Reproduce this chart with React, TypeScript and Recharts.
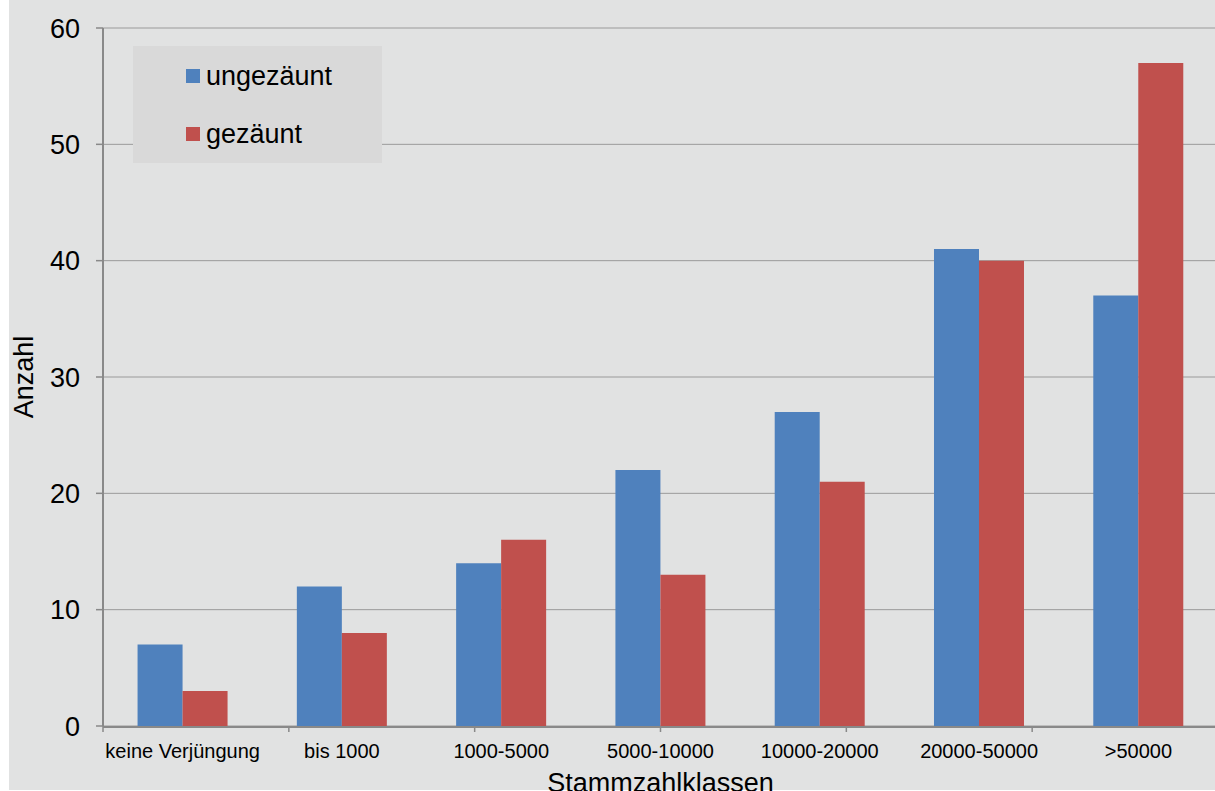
import React from 'react';
import { BarChart, Bar, XAxis, YAxis, CartesianGrid, Legend, Label } from 'recharts';

const categories = ['keine Verjüngung', 'bis 1000', '1000-5000', '5000-10000', '10000-20000', '20000-50000', '>50000'];
const ungezaunt = [7, 12, 14, 22, 27, 41, 37];
const gezaunt = [3, 8, 16, 13, 21, 40, 57];
const seriesNames = ['ungezäunt', 'gezäunt'];
const yTicks = [0, 10, 20, 30, 40, 50, 60];
// class boundaries for the tick marks between categories
const classBounds = [0, 1, 2, 3, 4, 5, 6, 7];

const data = categories.map((name, i) => ({
  name,
  ungezaunt: ungezaunt[i],
  gezaunt: gezaunt[i],
}));

const FONT = '"Liberation Sans", Arial, sans-serif';
const AXIS_GRAY = '#898989';

function LegendBox({ payload }: any) {
  const items = [...(payload || [])].sort(
    (a: any, b: any) => seriesNames.indexOf(a.value) - seriesNames.indexOf(b.value)
  );
  return (
    <div
      style={{
        width: 249,
        height: 117,
        background: '#d9d9d9',
        boxSizing: 'border-box',
        paddingTop: 1,
        paddingLeft: 53,
      }}
    >
      {items.map((p: any) => (
        <div key={p.value} style={{ display: 'flex', alignItems: 'center', height: 58 }}>
          <span style={{ width: 14, height: 14, background: p.color, marginRight: 6 }} />
          <span style={{ fontSize: 27, color: '#000', fontFamily: FONT }}>{p.value}</span>
        </div>
      ))}
    </div>
  );
}

export default function App() {
  return (
    <div style={{ position: 'absolute', left: 0, top: 0, width: 1215, height: 791, background: '#fff', overflow: 'hidden' }}>
      <div style={{ position: 'absolute', left: 9, top: 0, width: 1206, height: 790, background: '#e1e2e2' }} />
      <div style={{ position: 'absolute', left: 0, top: 0 }}>
        <BarChart
          width={1218}
          height={791}
          data={data}
          margin={{ top: 28, right: 0, left: 0, bottom: 63 }}
          barCategoryGap="21.7%"
          barGap={0}
          style={{ fontFamily: FONT }}
        >
          <CartesianGrid vertical={false} stroke="#9a9a9a" strokeWidth={1} />
          <XAxis
            xAxisId="bounds"
            type="number"
            domain={[0, 7]}
            ticks={classBounds}
            tickFormatter={() => ''}
            tickSize={6}
            tickLine={{ stroke: AXIS_GRAY, strokeWidth: 1.5 }}
            axisLine={false}
            height={1}
          />
          <XAxis
            xAxisId="cat"
            dataKey="name"
            interval={0}
            height={1}
            tickLine={false}
            tickSize={0}
            tickMargin={17}
            axisLine={{ stroke: AXIS_GRAY, strokeWidth: 2 }}
            tick={{ fill: '#000', fontSize: 20 }}
          >
            <Label value="Stammzahlklassen" position="bottom" offset={45} style={{ fill: '#000', fontSize: 27 }} />
          </XAxis>
          <YAxis
            domain={[0, 60]}
            ticks={yTicks}
            width={103}
            tickSize={7}
            tickMargin={16}
            axisLine={{ stroke: AXIS_GRAY, strokeWidth: 2 }}
            tickLine={{ stroke: AXIS_GRAY, strokeWidth: 1.5 }}
            tick={{ fill: '#000', fontSize: 27 }}
          >
            <Label
              value="Anzahl"
              angle={-90}
              position="insideLeft"
              offset={23}
              style={{ fill: '#000', fontSize: 27, textAnchor: 'middle' }}
            />
          </YAxis>
          <Legend
            layout="horizontal"
            verticalAlign="middle"
            align="center"
            content={<LegendBox />}
            wrapperStyle={{ left: 133, top: 46, width: 249, height: 117 }}
          />
          <Bar xAxisId="cat" dataKey="ungezaunt" name="ungezäunt" fill="#4f81bd" isAnimationActive={false} />
          <Bar xAxisId="cat" dataKey="gezaunt" name="gezäunt" fill="#c0504d" isAnimationActive={false} />
        </BarChart>
      </div>
    </div>
  );
}
